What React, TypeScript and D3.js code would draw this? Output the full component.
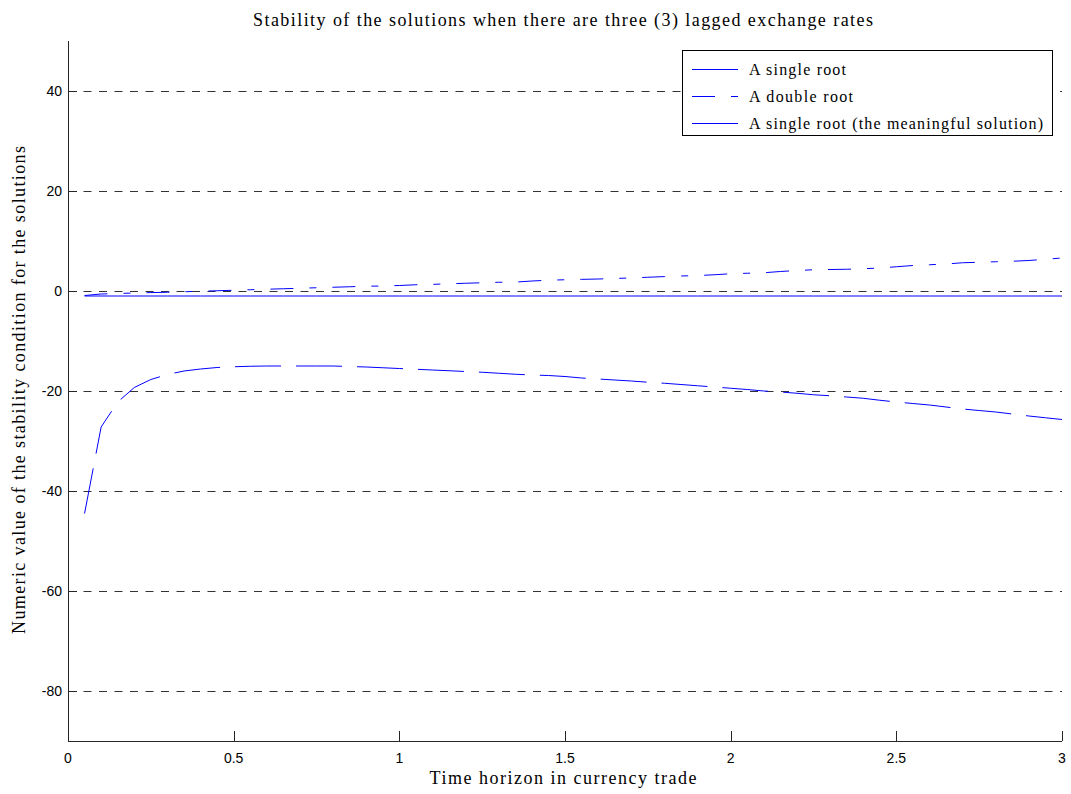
import React from "react";
import * as d3 from "d3";

const xValues = [
  0.05, 0.1, 0.15, 0.2, 0.25, 0.3, 0.35, 0.4, 0.45, 0.5,
  0.55, 0.6, 0.65, 0.7, 0.75, 0.8, 0.85, 0.9, 0.95, 1.0,
  1.05, 1.1, 1.15, 1.2, 1.25, 1.3, 1.35, 1.4, 1.45, 1.5,
  1.55, 1.6, 1.65, 1.7, 1.75, 1.8, 1.85, 1.9, 1.95, 2.0,
  2.05, 2.1, 2.15, 2.2, 2.25, 2.3, 2.35, 2.4, 2.45, 2.5,
  2.55, 2.6, 2.65, 2.7, 2.75, 2.8, 2.85, 2.9, 2.95, 3.0,
];

const singleRoot = [
  -1, -1, -1, -1, -1, -1, -1, -1, -1, -1,
  -1, -1, -1, -1, -1, -1, -1, -1, -1, -1,
  -1, -1, -1, -1, -1, -1, -1, -1, -1, -1,
  -1, -1, -1, -1, -1, -1, -1, -1, -1, -1,
  -1, -1, -1, -1, -1, -1, -1, -1, -1, -1,
  -1, -1, -1, -1, -1, -1, -1, -1, -1, -1,
];

const doubleRoot = [
  -0.9, -0.6, -0.5, -0.4, -0.32, -0.25, -0.15, -0.05, 0.05, 0.15,
  0.25, 0.35, 0.45, 0.55, 0.65, 0.75, 0.85, 0.95, 1.0, 1.1,
  1.25, 1.33, 1.45, 1.55, 1.65, 1.75, 1.78, 2.0, 2.15, 2.25,
  2.33, 2.4, 2.5, 2.62, 2.75, 2.88, 3.0, 3.08, 3.25, 3.45,
  3.55, 3.65, 3.9, 4.1, 4.25, 4.3, 4.35, 4.45, 4.6, 4.85,
  5.1, 5.25, 5.4, 5.65, 5.75, 5.85, 5.95, 6.1, 6.35, 6.6,
];

const meaningfulRoot = [
  -44.5, -27.2, -22.2, -19.3, -17.7, -16.7, -16.0, -15.6, -15.3, -15.15,
  -15.05, -15.0, -15.0, -15.0, -15.0, -15.0, -15.1, -15.2, -15.35, -15.5,
  -15.65, -15.8, -15.95, -16.1, -16.25, -16.45, -16.65, -16.8, -16.9, -17.1,
  -17.4, -17.6, -17.8, -18.0, -18.25, -18.45, -18.7, -18.95, -19.2, -19.45,
  -19.7, -20.0, -20.2, -20.45, -20.75, -20.95, -21.2, -21.45, -21.85, -22.2,
  -22.5, -22.8, -23.2, -23.6, -23.9, -24.2, -24.6, -25.0, -25.35, -25.7,
];

const xTicks = [0, 0.5, 1, 1.5, 2, 2.5, 3];
const yTicks = [-80, -60, -40, -20, 0, 20, 40];
const seriesNames = [
  "A single root",
  "A double root",
  "A single root (the meaningful solution)",
];
const seriesDashes = ["none", "23,16,7,16", "46,15"];
const legendTextWidths = [97, 104, 294];

const W = 1071;
const H = 794;
const left = 68;
const right = 1062;
const top = 41;
const bottom = 741;

export default function App() {
  const x = d3.scaleLinear().domain([0, 3]).range([left, right]);
  const y = d3.scaleLinear().domain([-90, 50]).range([bottom, top]);
  const series = [singleRoot, doubleRoot, meaningfulRoot];
  const line = d3
    .line<number>()
    .x((_, i) => x(xValues[i]))
    .y((d) => y(d));

  const serif = "'Liberation Serif', 'DejaVu Serif', serif";
  const sans = "'Liberation Sans', Arial, sans-serif";
  const axisColor = "#262626";

  return (
    <svg
      width={W}
      height={H}
      style={{ position: "absolute", left: 0, top: 0, background: "#fff" }}
    >
      <rect x={0} y={0} width={W} height={H} fill="#fff" />
      {/* grid */}
      {yTicks.map((t) => (
        <line
          key={"g" + t}
          x1={left}
          x2={right}
          y1={Math.round(y(t)) + 0.5}
          y2={Math.round(y(t)) + 0.5}
          stroke="#333"
          strokeWidth={1}
          strokeDasharray="8,7.5"
        />
      ))}
      {/* series */}
      {series.map((s, i) => (
        <path
          key={"s" + i}
          d={line(s) || ""}
          fill="none"
          stroke="#0000ff"
          strokeWidth={1}
          strokeDasharray={seriesDashes[i]}
        />
      ))}
      {/* axes */}
      <line x1={left + 0.5} x2={left + 0.5} y1={top} y2={bottom} stroke={axisColor} />
      <line x1={left} x2={right} y1={bottom + 0.5} y2={bottom + 0.5} stroke={axisColor} />
      {yTicks.map((t) => (
        <g key={"yt" + t}>
          <line
            x1={left}
            x2={left + 9}
            y1={Math.round(y(t)) + 0.5}
            y2={Math.round(y(t)) + 0.5}
            stroke={axisColor}
          />
          <text
            x={left - 6}
            y={y(t)}
            dy="0.35em"
            textAnchor="end"
            fontFamily={sans}
            fontSize={14}
            fill="#000"
          >
            {t}
          </text>
        </g>
      ))}
      {xTicks.map((t) => (
        <g key={"xt" + t}>
          <line
            x1={Math.round(x(t)) + 0.5}
            x2={Math.round(x(t)) + 0.5}
            y1={bottom}
            y2={bottom - 10}
            stroke={axisColor}
          />
          <text
            x={x(t)}
            y={bottom + 22}
            textAnchor="middle"
            fontFamily={sans}
            fontSize={14}
            fill="#000"
          >
            {t}
          </text>
        </g>
      ))}
      {/* title and labels */}
      <text
        x={563}
        y={26}
        textAnchor="middle"
        fontFamily={serif}
        fontSize={18}
        textLength={620}
        lengthAdjust="spacing"
        fill="#000"
      >
        Stability of the solutions when there are three (3) lagged exchange rates
      </text>
      <text
        x={563}
        y={784}
        textAnchor="middle"
        fontFamily={serif}
        fontSize={18}
        textLength={267}
        lengthAdjust="spacing"
        fill="#000"
      >
        Time horizon in currency trade
      </text>
      <text
        transform={`translate(25, 390) rotate(-90)`}
        textAnchor="middle"
        fontFamily={serif}
        fontSize={18}
        textLength={488}
        lengthAdjust="spacing"
        fill="#000"
      >
        Numeric value of the stability condition for the solutions
      </text>
      {/* legend */}
      <g>
        <rect x={682.5} y={50.5} width={370} height={85} fill="#fff" stroke="#000" />
        {seriesNames.map((n, i) => (
          <g key={"l" + i}>
            <line
              x1={692}
              x2={i === 2 ? 743 : 738}
              y1={69.5 + i * 27}
              y2={69.5 + i * 27}
              stroke="#0000ff"
              strokeWidth={1}
              strokeDasharray={seriesDashes[i]}
            />
            <text
              x={749}
              y={69 + i * 27}
              dy="0.35em"
              fontFamily={serif}
              fontSize={16}
              textLength={legendTextWidths[i]}
              lengthAdjust="spacing"
              fill="#000"
            >
              {n}
            </text>
          </g>
        ))}
      </g>
    </svg>
  );
}
